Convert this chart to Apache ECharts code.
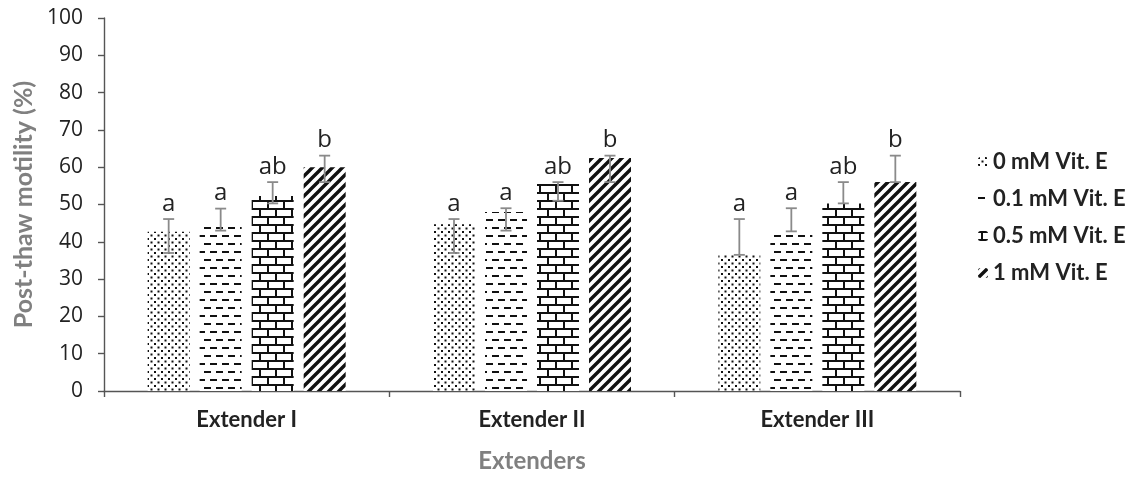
<!DOCTYPE html>
<html>
<head>
<meta charset="utf-8">
<script src="https://cdn.jsdelivr.net/npm/echarts@6/dist/echarts.min.js"></script>
<style>html,body{margin:0;padding:0;background:#fff;}#c{width:1138px;height:478px;}</style>
</head>
<body>
<div id="c"></div>
<script>
// ---- data ----
var categories = ['Extender I', 'Extender II', 'Extender III'];
var seriesNames = ['0 mM Vit. E', '0.1 mM Vit. E', '0.5 mM Vit. E', '1 mM Vit. E'];
var vit0 = [42.7, 44.7, 36.5];
var vit01 = [45.5, 48, 42];
var vit05 = [52.3, 55.5, 50.3];
var vit1 = [60, 62.5, 56];
var errTop0 = [46.1, 46.1, 46.1];
var errTop01 = [48.9, 49, 49];
var errTop05 = [56, 56, 56];
var errTop1 = [63.1, 63.1, 63.1];
var errBot0 = [37, 37, 36.5];
var errBot01 = [43, 43, 42.8];
var errBot05 = [50.3, 51, 50.3];
var errBot1 = [56, 56, 56];
var letters = ['a', 'a', 'ab', 'b'];
var yTicks = [0, 10, 20, 30, 40, 50, 60, 70, 80, 90, 100];

var values = [vit0, vit01, vit05, vit1];
var tops = [errTop0, errTop01, errTop05, errTop1];
var bots = [errBot0, errBot01, errBot05, errBot1];

// ---- patterns ----
function makeCanvas(w, h, draw) {
  var c = document.createElement('canvas');
  c.width = w; c.height = h;
  var ctx = c.getContext('2d');
  ctx.fillStyle = '#fff'; ctx.fillRect(0, 0, w, h);
  draw(ctx);
  return c;
}
var dotsPat = makeCanvas(7, 7, function (ctx) {
  ctx.fillStyle = '#111';
  ctx.fillRect(0, 0, 2, 2);
  ctx.fillRect(3.5, 3.5, 2, 2);
});
var dashPat = makeCanvas(12, 16, function (ctx) {
  ctx.fillStyle = '#111';
  ctx.fillRect(0, 3, 7, 2);
  ctx.fillRect(6, 11, 7, 2);
  ctx.fillRect(-6, 11, 7, 2);
});
var brickPat = makeCanvas(16, 16, function (ctx) {
  ctx.fillStyle = '#111';
  ctx.fillRect(0, 0, 16, 2);
  ctx.fillRect(0, 8, 16, 2);
  ctx.fillRect(3, 0, 2, 8);
  ctx.fillRect(11, 8, 2, 8);
});
var diagPat = makeCanvas(10, 10, function (ctx) {
  ctx.strokeStyle = '#111';
  ctx.lineWidth = 3.4;
  ctx.beginPath();
  for (var k = -2; k <= 2; k++) {
    ctx.moveTo(k * 10 - 2, 12);
    ctx.lineTo(k * 10 + 12, -2);
  }
  ctx.stroke();
});
var patterns = [dotsPat, dashPat, brickPat, diagPat];

var BAR_W = 42, GAP = 10;

var series = [];
seriesNames.forEach(function (name, i) {
  series.push({
    name: name,
    type: 'bar',
    data: values[i],
    barWidth: BAR_W,
    barGap: (GAP / BAR_W * 100) + '%',
    itemStyle: { color: { image: patterns[i], repeat: 'repeat' } },
    emphasis: { disabled: true },
    z: 2
  });
});

// error bars + letters
var errData = [];
for (var s = 0; s < 4; s++) {
  for (var c = 0; c < categories.length; c++) {
    errData.push([c, tops[s][c], bots[s][c], s]);
  }
}
series.push({
  type: 'custom',
  name: 'err',
  data: errData,
  z: 5,
  renderItem: function (params, api) {
    var ci = api.value(0);
    var si = api.value(3);
    var pTop = api.coord([ci, api.value(1)]);
    var pBot = api.coord([ci, api.value(2)]);
    var x = pTop[0] + (si - 1.5) * (BAR_W + GAP);
    var cap = 5.5;
    var st = { stroke: '#8a8a8a', lineWidth: 1.8 };
    return {
      type: 'group',
      children: [
        { type: 'line', shape: { x1: x, y1: pTop[1], x2: x, y2: pBot[1] }, style: st },
        { type: 'line', shape: { x1: x - cap, y1: pTop[1], x2: x + cap, y2: pTop[1] }, style: st },
        { type: 'line', shape: { x1: x - cap, y1: pBot[1], x2: x + cap, y2: pBot[1] }, style: st },
        { type: 'text', style: { text: letters[si], x: x, y: pTop[1] - 3, align: 'center', verticalAlign: 'bottom',
          fill: '#222', font: '24px "Open Sans", sans-serif' } }
      ]
    };
  }
});

var chart = echarts.init(document.getElementById('c'), null, { renderer: 'canvas' });
chart.setOption({
  animation: false,
  backgroundColor: '#fff',
  grid: { left: 104, right: 178, top: 18, bottom: 84 },
  legend: {
    data: seriesNames,
    orient: 'vertical',
    left: 973,
    top: 146,
    itemWidth: 10,
    itemHeight: 10,
    itemGap: 15,
    selectedMode: false,
    textStyle: { fontFamily: 'Lato, sans-serif', fontWeight: 'bold', fontSize: 22, color: '#222', padding: [0, 0, 0, 0] }
  },
  xAxis: {
    type: 'category',
    data: categories,
    name: 'Extenders',
    nameLocation: 'middle',
    nameGap: 58,
    nameTextStyle: { fontFamily: 'Lato, sans-serif', fontWeight: 'bold', fontSize: 24, color: '#808080' },
    axisLine: { lineStyle: { color: '#555', width: 1.4 } },
    axisTick: { show: true, length: 6, lineStyle: { color: '#555', width: 1.4 } },
    axisLabel: { margin: 18, fontFamily: 'Lato, sans-serif', fontWeight: 'bold', fontSize: 22, color: '#222' }
  },
  yAxis: {
    type: 'value',
    min: 0, max: 100, interval: 10,
    name: 'Post-thaw motility (%)',
    nameLocation: 'middle',
    nameGap: 66,
    nameTextStyle: { fontFamily: 'Lato, sans-serif', fontWeight: 'bold', fontSize: 25, color: '#808080' },
    splitLine: { show: false },
    axisLine: { show: true, lineStyle: { color: '#555', width: 1.4 } },
    axisTick: { show: true, length: 6, lineStyle: { color: '#555', width: 1.4 } },
    axisLabel: { margin: 21, fontFamily: 'Open Sans, sans-serif', fontSize: 21, color: '#222',
      formatter: function (v) { return yTicks.indexOf(v) >= 0 ? String(v) : ''; } }
  },
  series: series
});
</script>
</body>
</html>
